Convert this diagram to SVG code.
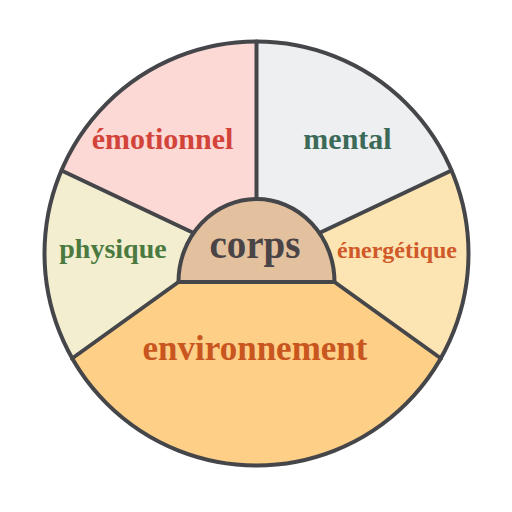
<svg xmlns="http://www.w3.org/2000/svg" width="512" height="512" viewBox="0 0 512 512">
<style>
.lbl{font-family:"Liberation Serif","Times New Roman",serif;font-weight:bold;text-anchor:middle}
.ln{stroke:#45464a;stroke-width:4;fill:none;stroke-linecap:round}
</style>
<rect width="512" height="512" fill="#ffffff"/>
<g id="emotionnel">
<path d="M61.5,170.5 A212,212 0 0 1 256.5,41.5 L256.5,282 L192,232 Z" fill="#fcd9d4"/>
<text class="lbl" x="162.5" y="149" font-size="30" fill="#d2433a">émotionnel</text>
</g>
<g id="mental">
<path d="M256.5,41.5 A212,212 0 0 1 451.5,170.5 L322,232 L256.5,282 Z" fill="#eeeff1"/>
<text class="lbl" x="347.5" y="149" font-size="30" fill="#3b6a58">mental</text>
</g>
<g id="energetique">
<path d="M451.5,170.5 A212,212 0 0 1 441,358.5 L334.5,282 L256.5,282 L322,232 Z" fill="#fde5b3"/>
<text class="lbl" x="397" y="258" font-size="24" fill="#d0592a">énergétique</text>
</g>
<g id="environnement">
<path d="M441,358.5 A212,212 0 0 1 72,358.5 L178.5,282 L334.5,282 Z" fill="#fecf86"/>
<text class="lbl" x="255" y="360" font-size="35" fill="#c8561e">environnement</text>
</g>
<g id="physique">
<path d="M72,358.5 A212,212 0 0 1 61.5,170.5 L192,232 L256.5,282 L178.5,282 Z" fill="#f3eed0"/>
<text class="lbl" x="113" y="258" font-size="28" fill="#4a7a3f">physique</text>
</g>
<g id="connectors">
<line class="ln" x1="61.5" y1="170.5" x2="200" y2="236"/>
<line class="ln" x1="451.5" y1="170.5" x2="313" y2="236"/>
<line class="ln" x1="256.5" y1="41.5" x2="256.5" y2="205"/>
<line class="ln" x1="72" y1="358.5" x2="178.5" y2="282"/>
<line class="ln" x1="441" y1="358.5" x2="334.5" y2="282"/>
</g>
<g id="corps">
<path d="M178.5,282 A78,83 0 0 1 334.5,282 Z" fill="#e3c19e" stroke="#45464a" stroke-width="4" stroke-linejoin="round"/>
<text class="lbl" x="255" y="258" font-size="39" fill="#4a4447">corps</text>
</g>
<circle cx="256.5" cy="253.5" r="212" class="ln"/>
</svg>
